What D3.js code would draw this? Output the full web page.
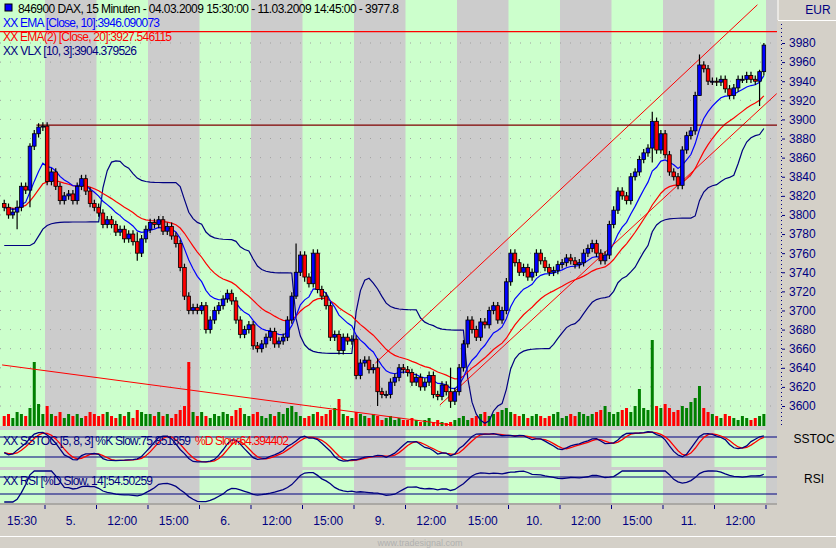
<!DOCTYPE html>
<html><head><meta charset="utf-8">
<script src="https://cdn.jsdelivr.net/npm/d3@7"></script>
<style>body{margin:0;background:#d4d0c8}text{font-family:"Liberation Sans",Arial,sans-serif}</style>
</head><body>
<svg id="chart" width="836" height="548"></svg>
<script>
// closes per session band (band 0 = 04.03 15:30 partial)
var closeBands = [
  [3808,3800,3803,3808,3830,3826,3872,3885,3892,3893],
  [3835,3845,3830,3815,3820,3822,3815,3830,3838,3825,3812,3808],
  [3802,3790,3795,3790,3782,3785,3775,3780,3772,3760,3775,3785],
  [3792,3790,3795,3783,3788,3778,3770,3745,3715,3700,3703,3700],
  [3705,3680,3690,3700,3705,3712,3718,3710,3690,3675,3680,3685],
  [3663,3660,3665,3672,3678,3665,3668,3672,3690,3715,3740,3758],
  [3735,3728,3760,3722,3715,3705,3672,3675,3658,3672,3668,3670],
  [3632,3645,3648,3638,3640,3615,3612,3612,3625,3630,3640,3638],
  [3635,3625,3630,3620,3625,3632,3612,3610,3622,3615,3605,3615],
  [3640,3665,3690,3680,3672,3688,3685,3700,3705,3690,3700,3730],
  [3760,3750,3740,3745,3735,3740,3760,3752,3745,3740,3742,3748],
  [3750,3755,3752,3748,3750,3760,3765,3770,3760,3752,3758,3790],
  [3805,3825,3820,3815,3840,3845,3858,3865,3870,3898,3868,3885],
  [3863,3845,3840,3831,3868,3883,3888,3925,3957,3953,3940,3940],
  [3939,3942,3932,3925,3933,3942,3942,3946,3942,3940,3950,3977.8]
];
var volumeBands = [
  [10,12,8,14,12,10,18,64,22,12],
  [20,12,10,14,8,12,10,12,8,10,14,12],
  [10,12,14,10,8,12,10,14,8,16,14,12],
  [12,10,14,10,12,8,12,16,20,64,14,10],
  [14,10,8,12,10,14,12,10,16,18,12,10],
  [12,14,10,8,12,10,14,12,18,20,14,10],
  [8,10,12,14,10,12,16,18,27,12,10,8],
  [14,12,10,8,12,10,6,8,10,6,8,6],
  [6,8,6,4,6,8,4,6,4,3,4,6],
  [8,10,6,8,10,12,14,10,12,14,16,18],
  [14,12,10,12,8,10,12,10,8,10,12,14],
  [8,10,12,10,14,12,10,12,14,16,20,14],
  [12,14,16,18,14,20,37,18,16,86,20,18],
  [22,18,14,16,20,18,24,28,40,18,14,12],
  [10,8,12,10,8,6,10,8,6,8,10,12]
];
// notable wick extremes: index -> [high, low]
var wickExtremes = {3:[3815,3785],6:[3875,3808],31:[3782,3752],68:[3770,3712],70:[3762,3730],87:[3650,3600],
  104:[3640,3598],151:[3908,3855],162:[3968,3925],176:[3952,3914],177:[3980,3946]};
var timeLabels = ["15:30","5.","12:00","15:00","6.","12:00","15:00","9.","12:00","15:00","10.","12:00","15:00","11.","12:00"];
var priceTicks = d3.range(3600, 3981, 20);
var levels = [3992, 3894];
var lastEma10 = "3946.090073", lastEma20 = "3927.546115", lastVlx = "3904.379526";
var lastK = "75.851859", lastD = "64.394402", lastRsi = "54.50259";

var closes = [].concat.apply([], closeBands);
var volumes = [].concat.apply([], volumeBands);
var bars = closes.map(function (c, i) {
    var o = i === 0 ? 3812 : closes[i - 1];
    var w = wickExtremes[i];
    return {i: i, o: o, c: c,
        h: w ? w[0] : Math.max(o, c) + 4,
        l: w ? w[1] : Math.min(o, c) - 4, v: volumes[i]};
});

var svg = d3.select("#chart");
var plotRight = 777, mainBottom = 426;
var x = d3.scaleLinear().domain([10, 178]).range([45, 766]);
var y = d3.scaleLinear().domain([3600, 3980]).range([406, 43]);
var green = "#ccffcc", grey = "#cccccc";

svg.append("rect").attr("width", 836).attr("height", 548).attr("fill", "#d4d0c8");
svg.append("rect").attr("width", plotRight).attr("height", 503).attr("fill", grey);

// session bands in all panels
var panels = [[0, mainBottom], [430, 467], [470, 503]];
var bandEdges = [-2].concat(d3.range(15).map(function (k) { return 10 + k * 12; }));
panels.forEach(function (p) {
    for (var k = 0; k < 15; k++) {
        var x0 = k === 0 ? 0 : x(bandEdges[k]);
        var x1 = Math.min(x(bandEdges[k + 1] || 178), plotRight);
        svg.append("rect").attr("x", x0).attr("y", p[0]).attr("width", x1 - x0)
            .attr("height", p[1] - p[0]).attr("fill", k % 2 === 0 ? green : grey);
    }
    svg.append("rect").attr("x", x(178)).attr("y", p[0]).attr("width", plotRight - x(178))
        .attr("height", p[1] - p[0]).attr("fill", grey);
});

// dotted grid
priceTicks.forEach(function (v) {
    svg.append("line").attr("x1", 0).attr("x2", plotRight).attr("y1", y(v)).attr("y2", y(v))
        .attr("stroke", "#a0a0a0").attr("stroke-dasharray", "1,9");
});

// volume
var vScale = d3.scaleLinear().domain([0, d3.max(volumes)]).range([0, 86]);
svg.selectAll(".vol").data(bars).enter().append("rect")
    .attr("x", function (d) { return x(d.i + 0.5) - 1.5; })
    .attr("y", function (d) { return mainBottom - vScale(d.v); })
    .attr("width", 3).attr("height", function (d) { return vScale(d.v); })
    .attr("fill", function (d) { return d.c >= d.o ? "#008000" : "#ff0000"; });

// indicators
function ema(vals, n) {
    var k = 2 / (n + 1), out = [], prev = vals[0];
    vals.forEach(function (v) { prev = prev + k * (v - prev); out.push(prev); });
    return out;
}
var ema10 = ema(closes, 10), ema20 = ema(ema(closes, 20), 2);
// volatility stop
var vlx = [], trendUp = true, stop = closes[0] - 40;
bars.forEach(function (b, i) {
    var from = Math.max(0, i - 9), atr = d3.mean(bars.slice(from, i + 1), function (d) { return d.h - d.l; });
    if (trendUp) {
        stop = Math.max(stop, b.c - 4.5 * atr);
        if (b.c < stop) { trendUp = false; stop = b.c + 4.5 * atr; }
    } else {
        stop = Math.min(stop, b.c + 4.5 * atr);
        if (b.c > stop) { trendUp = true; stop = b.c - 4.5 * atr; }
    }
    vlx.push(stop);
});
var vlxSmooth = ema(vlx, 3);
var line = d3.line().x(function (d, i) { return x(i + 0.5); }).y(function (d) { return y(d); });
svg.append("path").datum(vlxSmooth).attr("d", line).attr("fill", "none").attr("stroke", "#000080").attr("stroke-width", 1.2);
svg.append("path").datum(ema20).attr("d", line).attr("fill", "none").attr("stroke", "#ff0000").attr("stroke-width", 1.2);
svg.append("path").datum(ema10).attr("d", line).attr("fill", "none").attr("stroke", "#0000ff").attr("stroke-width", 1.2);

// trend lines and levels
var trends = [[0, 3643, 105, 3580], [87, 3645, 176, 4020], [102, 3601, 180.5, 3927]];
trends.forEach(function (t) {
    svg.append("line").attr("x1", x(t[0])).attr("y1", y(t[1])).attr("x2", x(t[2])).attr("y2", y(t[3]))
        .attr("stroke", "#ff0000").attr("stroke-width", 1);
});
svg.append("line").attr("x1", 0).attr("x2", plotRight).attr("y1", y(levels[0])).attr("y2", y(levels[0])).attr("stroke", "#ff0000").attr("stroke-width", 1.2);
svg.append("line").attr("x1", x(8)).attr("x2", plotRight).attr("y1", y(levels[1])).attr("y2", y(levels[1])).attr("stroke", "#800000").attr("stroke-width", 1.2);

// candles
var candle = svg.selectAll(".candle").data(bars).enter().append("g");
candle.append("line")
    .attr("x1", function (d) { return x(d.i + 0.5); }).attr("x2", function (d) { return x(d.i + 0.5); })
    .attr("y1", function (d) { return y(d.h); }).attr("y2", function (d) { return y(d.l); })
    .attr("stroke", "#000").attr("stroke-width", 1.2);
candle.append("rect")
    .attr("x", function (d) { return x(d.i + 0.5) - 1.8; })
    .attr("y", function (d) { return y(Math.max(d.o, d.c)); })
    .attr("width", 3.6)
    .attr("height", function (d) { return Math.max(1, Math.abs(y(d.o) - y(d.c))); })
    .attr("fill", function (d) { return d.c >= d.o ? "#0000ff" : "#ff0000"; })
    .attr("stroke", "#000").attr("stroke-width", 0.8);

// stochastic
var rawK = closes.map(function (c, i) {
    var s = bars.slice(Math.max(0, i - 7), i + 1);
    var hh = d3.max(s, function (d) { return d.h; }), ll = d3.min(s, function (d) { return d.l; });
    return 100 * (c - ll) / (hh - ll || 1);
});
function sma(vals, n) { return vals.map(function (v, i) { return d3.mean(vals.slice(Math.max(0, i - n + 1), i + 1)); }); }
var kSlow = sma(rawK, 5), dSlow = sma(kSlow, 3);
var yS = d3.scaleLinear().domain([0, 100]).range([463.7, 430.3]);
var gains = [0], losses = [0];
for (var i = 1; i < closes.length; i++) { var df = closes[i] - closes[i - 1]; gains.push(Math.max(df, 0)); losses.push(Math.max(-df, 0)); }
var ag = ema(gains, 14), al = ema(losses, 14);
var rsi = sma(ag.map(function (g, i) { return 100 - 100 / (1 + g / (al[i] || 0.01)); }), 5);
var yR = d3.scaleLinear().domain([0, 100]).range([511, 457]);

[[437, 457], [477, 494]].forEach(function (ls) {
    ls.forEach(function (yy) {
        svg.append("line").attr("x1", 0).attr("x2", plotRight).attr("y1", yy).attr("y2", yy).attr("stroke", "#000080").attr("stroke-width", 1.2);
    });
});
function sub(vals, sc, col, top, bot) {
    svg.append("path").datum(vals).attr("fill", "none").attr("stroke", col).attr("stroke-width", 1.3)
        .attr("d", d3.line().x(function (d, i) { return x(i + 0.5); })
            .y(function (d) { return Math.max(top, Math.min(bot, sc(d))); }));
}
sub(dSlow, yS, "#ff0000", 431, 466);
sub(kSlow, yS, "#000080", 431, 466);
sub(rsi, yR, "#000080", 471, 502);

// header texts
function label(t, px, py, col) {
    return svg.append("text").attr("x", px).attr("y", py).attr("fill", col).attr("font-size", 12).text(t);
}
svg.append("rect").attr("x", 5).attr("y", 4).attr("width", 7).attr("height", 7).attr("fill", "#0000ff").attr("stroke", "#000");
label("846900  DAX, 15 Minuten - 04.03.2009 15:30:00 - 11.03.2009 14:45:00 - 3977.8", 18, 13, "#000").attr("textLength", 381);
label("XX EMA [Close, 10]:" + lastEma10, 3, 27, "#0000ff").attr("textLength", 157);
label("XX EMA(2) [Close, 20]:" + lastEma20, 3, 41, "#ff0000").attr("textLength", 169);
label("XX VLX [10, 3]:" + lastVlx, 3, 55, "#000080").attr("textLength", 134);
label("XX SSTOC [5, 8, 3] %K Slow:" + lastK, 3, 445, "#000080").attr("textLength", 188);
label("%D Slow:" + lastD, 195, 445, "#ff0000").attr("textLength", 94);
label("XX RSI [%D Slow, 14]:" + lastRsi, 3, 485, "#000080").attr("textLength", 150);

// right axis
svg.append("rect").attr("x", plotRight).attr("y", 0).attr("width", 59).attr("height", 548).attr("fill", "#d4d0c8");
svg.append("line").attr("x1", plotRight + 1).attr("x2", 836).attr("y1", 20.5).attr("y2", 20.5).attr("stroke", "#fff");
svg.append("line").attr("x1", plotRight + 1).attr("x2", plotRight + 1).attr("y1", 0).attr("y2", 20).attr("stroke", "#fff");
svg.append("text").attr("x", 818).attr("y", 14).attr("text-anchor", "middle").attr("fill", "#000080").attr("font-size", 12).text("EUR");
svg.append("line").attr("x1", 781.5).attr("x2", 781.5).attr("y1", 24).attr("y2", 426).attr("stroke", "#000080").attr("stroke-dasharray", "1,3");
var yAxis = d3.axisRight(y).tickValues(priceTicks).tickSize(3).tickFormat(d3.format("d"));
var ga = svg.append("g").attr("transform", "translate(782,0)").call(yAxis);
ga.select(".domain").remove();
ga.selectAll("line").attr("stroke", "#000080");
ga.selectAll("text").attr("fill", "#000080").attr("font-size", 12).attr("x", 7);
svg.append("text").attr("x", 814).attr("y", 443).attr("text-anchor", "middle").attr("fill", "#000").attr("font-size", 12).text("SSTOC");
svg.append("text").attr("x", 814).attr("y", 483).attr("text-anchor", "middle").attr("fill", "#000").attr("font-size", 12).text("RSI");

// time axis
svg.append("line").attr("x1", 0).attr("x2", plotRight).attr("y1", 504).attr("y2", 504).attr("stroke", "#808080");
bandEdges.slice(1).forEach(function (b) {
    svg.append("line").attr("x1", x(b)).attr("x2", x(b)).attr("y1", 505).attr("y2", 509).attr("stroke", "#000080");
});
timeLabels.forEach(function (t, k) {
    var x0 = k === 0 ? 0 : x(bandEdges[k]), x1 = x(bandEdges[k + 1] || 178);
    svg.append("text").attr("x", k === 0 ? 22 : (x0 + x1) / 2).attr("y", 525).attr("text-anchor", "middle")
        .attr("fill", "#000080").attr("font-size", 12).text(t);
});
svg.append("line").attr("x1", 0).attr("x2", 836).attr("y1", 536.5).attr("y2", 536.5).attr("stroke", "#fff");
svg.append("text").attr("x", 420).attr("y", 546).attr("text-anchor", "middle").attr("fill", "#b0b0b0").attr("font-size", 9).text("www.tradesignal.com");
</script>
</body></html>
